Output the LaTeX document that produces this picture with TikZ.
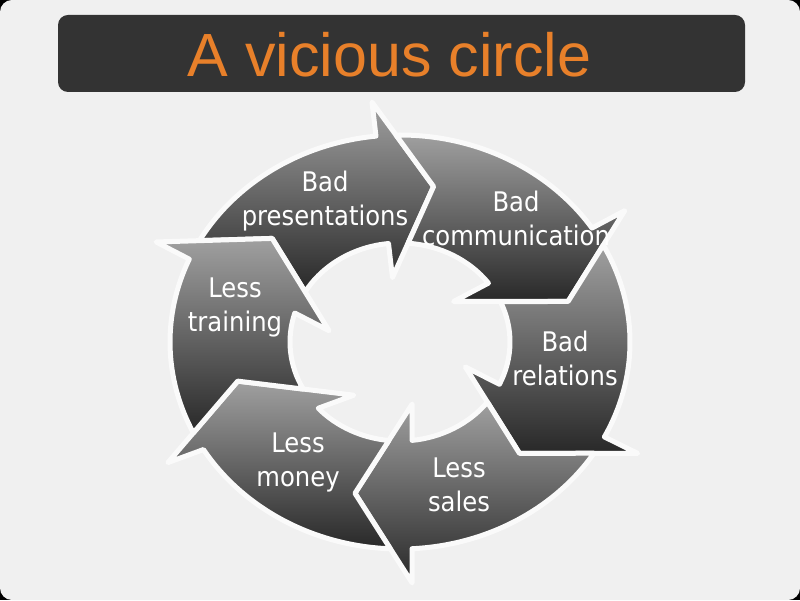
\documentclass[tikz,border=0pt]{standalone}
\usepackage{fontspec}
\newfontfamily\titlefont{Liberation Sans}
\newfontfamily\labelfont{DejaVu Sans}[FakeStretch=0.9]

\definecolor{pagebg}{RGB}{240,240,240}
\definecolor{gapline}{RGB}{250,250,250}
\definecolor{titlebar}{RGB}{51,51,51}
\definecolor{titleorange}{RGB}{232,128,42}
\definecolor{arrowtop}{RGB}{160,160,160}
\definecolor{arrowbottom}{RGB}{40,40,40}

\begin{document}
\begin{tikzpicture}[x=1pt, y=1pt,
  arrowpart/.style={draw=gapline, line width=5pt, line join=round,
    top color=arrowtop, bottom color=arrowbottom},
  cycletext/.style={text=white, align=center, inner sep=0pt,
    font=\labelfont\fontsize{27}{34}\selectfont}]

% Page
\useasboundingbox (0,0) rectangle (800,600);
\fill[black] (0,0) rectangle (800,600);
\fill[pagebg, rounded corners=12pt] (0,0) rectangle (800,600);

% Title bar
\fill[titlebar, rounded corners=10pt] (58,508) rectangle (745,585);
\node[anchor=base, inner sep=0pt, text=titleorange,
  font=\titlefont\fontsize{61}{70}\selectfont] (title) at (389.5,523) {A vicious circle};

% Arrow segments, clockwise
\begin{scope}[shift={(400,258)}, yscale=0.9]
% Bad presentations
\path[arrowpart] (150.7:230) arc[start angle=150.7, end angle=96, radius=230]
  -- (96:268) -- (79:176) -- (96:72) -- (96:110)
  arc[start angle=96, end angle=149.6, radius=110] -- (138:172) -- cycle;
% Bad communication
\path[arrowpart] (91:230) arc[start angle=91, end angle=33.4, radius=230]
  -- (33:268) -- (15:174) -- (40:70) -- (36.5:110)
  arc[start angle=36.5, end angle=85.8, radius=110] -- (79:176) -- cycle;
% Bad relations
\path[arrowpart] (27.9:230) arc[start angle=27.9, end angle=-27.3, radius=230]
  -- (-27.5:268) -- (-46:172) -- (-23:71) -- (-25.3:110)
  arc[start angle=-25.3, end angle=24.1, radius=110] -- (15:174) -- cycle;
% Less sales
\path[arrowpart] (-32.5:230) arc[start angle=-32.5, end angle=-87, radius=230]
  -- (-87.4:268) -- (-105:174) -- (-80:70) -- (-83.7:110)
  arc[start angle=-83.7, end angle=-37.4, radius=110] -- (-46:172) -- cycle;
% Less money
\path[arrowpart] (-92.4:230) arc[start angle=-92.4, end angle=-148.7, radius=230]
  -- (-150:268) -- (-165:168) -- (-128:75) -- (-138:110)
  arc[start angle=-138, end angle=-95.8, radius=110] -- (-105:174) -- cycle;
% Less training
\path[arrowpart] (206.05:230) arc[start angle=206.05, end angle=156.4, radius=230]
  -- (155.5:268) -- (138:172) -- (170:72) -- (163:110)
  arc[start angle=163, end angle=208.4, radius=110] -- (195:168) -- cycle;
\end{scope}

% Labels
\node[cycletext] (presentations) at (325,397.8) {\strut Bad\\\strut presentations};
\node[cycletext] (communication) at (516,377.8) {\strut Bad\\\strut communication};
\node[cycletext] (relations) at (565,237.8) {\strut Bad\\\strut relations};
\node[cycletext] (sales) at (459,112.8) {\strut Less\\\strut sales};
\node[cycletext] (money) at (298,137.8) {\strut Less\\\strut money};
\node[cycletext] (training) at (235,291.8) {\strut Less\\\strut training};

\end{tikzpicture}
\end{document}
